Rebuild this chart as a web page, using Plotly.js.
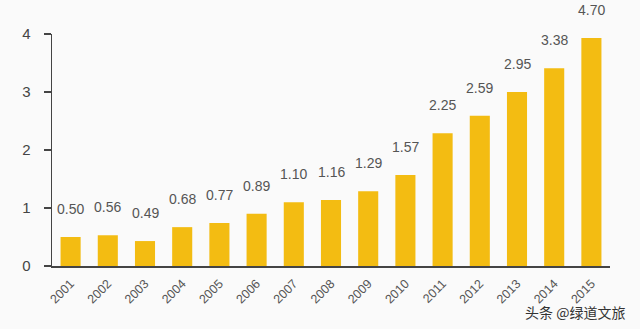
<!DOCTYPE html>
<html>
<head>
<meta charset="utf-8">
<script src="https://cdn.plot.ly/plotly-3.0.1.min.js"></script>
<style>html,body{margin:0;padding:0;background:#fafafa;}#chart{width:640px;height:329px;}</style>
</head>
<body>
<div id="chart"></div>
<script>
const years = ['2001','2002','2003','2004','2005','2006','2007','2008','2009','2010','2011','2012','2013','2014','2015'];
// bar heights as drawn in the picture
const barHeights = [0.50, 0.53, 0.43, 0.67, 0.74, 0.90, 1.10, 1.14, 1.29, 1.57, 2.29, 2.59, 3.00, 3.41, 3.93];
// value labels printed above the bars
const valueLabels = ['0.50','0.56','0.49','0.68','0.77','0.89','1.10','1.16','1.29','1.57','2.25','2.59','2.95','3.38','4.70'];
const yTicks = [0, 1, 2, 3, 4];
const watermark = '头条 @绿道文旅';

const trace = {
  type: 'bar',
  x: years,
  y: barHeights,
  marker: {color: '#F3BC12'},
  hoverinfo: 'skip'
};

const annotations = years.map((yr, i) => ({
  x: i, y: barHeights[i], xref: 'x', yref: 'y',
  text: valueLabels[i], showarrow: false,
  yanchor: 'bottom', yshift: 18,
  font: {family: 'Liberation Sans, Arial, sans-serif', size: 14, color: '#555'}
}));
annotations.push({
  xref: 'paper', yref: 'paper', x: 1.03, y: -0.2,
  xanchor: 'right', yanchor: 'middle',
  text: watermark, showarrow: false,
  font: {family: 'Noto Sans CJK SC, sans-serif', size: 14, color: '#333'}
});

const layout = {
  width: 640, height: 329,
  margin: {l: 52, r: 30, t: 34, b: 63},
  paper_bgcolor: '#fafafa',
  plot_bgcolor: '#fafafa',
  showlegend: false,
  bargap: 0.46,
  xaxis: {
    type: 'category',
    range: [-0.5, 14.5],
    showline: true, linecolor: '#444', linewidth: 1.5,
    ticks: '', tickangle: -45, ticklabelstandoff: 4,
    tickfont: {family: 'Liberation Sans, Arial, sans-serif', size: 12.5, color: '#555'},
    showgrid: false, zeroline: false
  },
  yaxis: {
    range: [0, 4],
    tickvals: yTicks,
    showline: true, linecolor: '#444', linewidth: 1.5,
    ticks: 'outside', ticklen: 7, tickcolor: '#444', tickwidth: 1.5,
    ticklabelstandoff: 10,
    tickfont: {family: 'Liberation Sans, Arial, sans-serif', size: 15, color: '#444'},
    showgrid: false, zeroline: false
  },
  annotations: annotations
};

Plotly.newPlot('chart', [trace], layout, {staticPlot: true, displayModeBar: false});
</script>
</body>
</html>
